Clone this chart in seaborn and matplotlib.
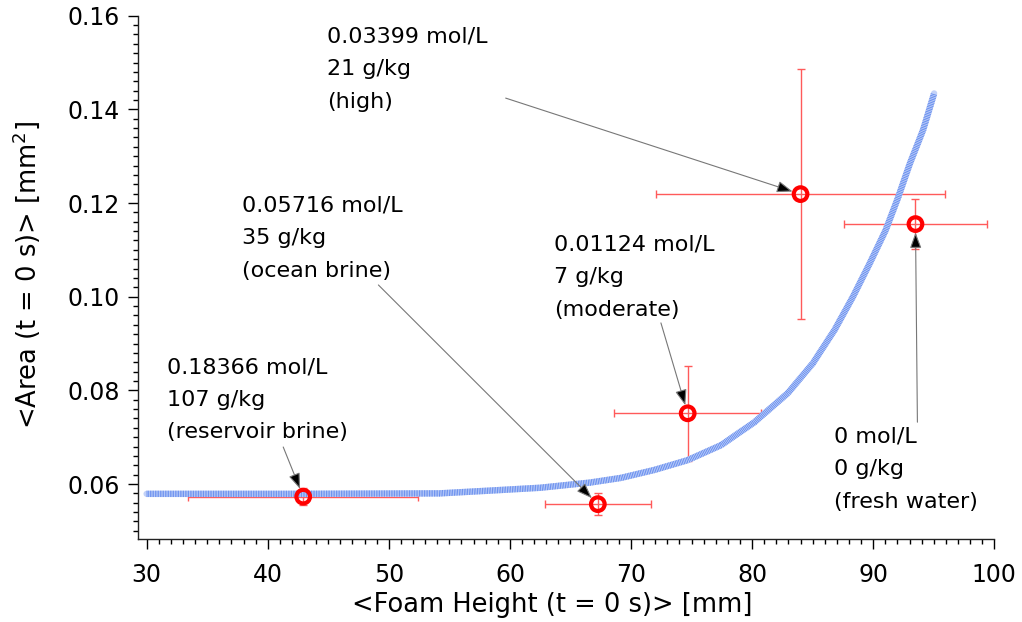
import matplotlib
matplotlib.use("Agg")
import matplotlib.pyplot as plt
from matplotlib.ticker import MultipleLocator, FormatStrFormatter
import seaborn as sns
import pandas as pd

# ---- data ----
foam_height = [42.93, 67.26, 74.68, 84.00, 93.49]
foam_height_err = [9.5, 4.35, 6.07, 11.9, 5.9]
area = [0.0573, 0.0557, 0.0751, 0.1219, 0.1155]
area_err = [0.0018, 0.0023, 0.0101, 0.0267, 0.0054]
labels = [
    "0.18366 mol/L\n107 g/kg\n(reservoir brine)",
    "0.05716 mol/L\n35 g/kg\n(ocean brine)",
    "0.01124 mol/L\n7 g/kg\n(moderate)",
    "0.03399 mol/L\n21 g/kg\n(high)",
    "0 mol/L\n0 g/kg\n(fresh water)",
]
# fitted curve
fit_x = [30.0, 42.0, 54.2, 58.4, 62.5, 66.6, 69.16, 71.92, 74.68, 77.44, 80.19, 82.95,
         85.02, 86.81, 88.33, 89.71, 91.03, 92.06, 93.01, 94.12, 95.03]
fit_y = [0.0579, 0.0579, 0.0580, 0.0586, 0.0592, 0.0603, 0.0613, 0.0630, 0.0651, 0.0683,
         0.0732, 0.0794, 0.0858, 0.0929, 0.1000, 0.1071, 0.1142, 0.1212, 0.1283, 0.1356,
         0.1434]

# annotation layout (text top-left and arrow tail, data coords)
text_pos = [(31.68, 0.0871), (37.89, 0.1215), (63.62, 0.1132), (44.92, 0.1576), (86.79, 0.0722)]
arrow_tail = [(41.28, 0.0679), (49.14, 0.1025), (72.47, 0.0944), (59.65, 0.1424), (93.65, 0.0732)]

sns.set_style("ticks")
plt.rcParams["font.family"] = ["DejaVu Sans"]
plt.rcParams["text.color"] = "black"
plt.rcParams["axes.labelcolor"] = "black"
plt.rcParams["xtick.color"] = "black"
plt.rcParams["ytick.color"] = "black"

fig = plt.figure(figsize=(10.22, 6.22), dpi=100)
ax = fig.add_axes([0.1347, 0.1330, 0.9729 - 0.1347, 0.9748 - 0.1330])

pts = pd.DataFrame({"x": foam_height, "y": area})
fit = pd.DataFrame({"x": fit_x, "y": fit_y})

ax.errorbar(foam_height, area, xerr=foam_height_err, yerr=area_err, fmt="none",
            ecolor="#ff5a5a", elinewidth=1.0, capsize=3, capthick=1.0, zorder=2)

sns.lineplot(data=fit, x="x", y="y", ax=ax, color="#c3d2f8", lw=4.6,
             estimator=None, sort=True, zorder=3)
sns.lineplot(data=fit, x="x", y="y", ax=ax, color="#5f88ee", lw=4.6,
             estimator=None, sort=True, zorder=3.1)
ax.lines[-1].set_dashes([0.13, 0.13])
for ln in ax.lines[-2:]:
    ln.set_solid_joinstyle("round")
    ln.set_dash_joinstyle("round")

sns.scatterplot(data=pts, x="x", y="y", ax=ax, marker="o", s=96,
                facecolors="none", edgecolor="#ff0000", linewidth=3.0, zorder=5)

for lab, (tx, ty), (ax_, ay_), px, py in zip(labels, text_pos, arrow_tail, foam_height, area):
    ax.text(tx, ty, lab, fontsize=16, va="top", ha="left", linespacing=1.78,
            color="black", zorder=6)
    ax.annotate("", xy=(px, py), xytext=(ax_, ay_),
                arrowprops=dict(arrowstyle="-|>,head_length=0.6,head_width=0.22",
                                ec="#777777", fc="black", lw=0.8,
                                shrinkA=0, shrinkB=6, mutation_scale=16),
                zorder=6)

ax.set_xlim(29.26, 100)
ax.set_ylim(0.0482, 0.16)
ax.xaxis.set_major_locator(MultipleLocator(10))
ax.xaxis.set_minor_locator(MultipleLocator(1))
ax.yaxis.set_minor_locator(MultipleLocator(0.002))
ax.yaxis.set_major_formatter(FormatStrFormatter("%.2f"))
ax.set_yticks([0.06, 0.08, 0.10, 0.12, 0.14, 0.16])

ax.tick_params(which="major", direction="out", length=7, width=1, labelsize=17, color="black")
ax.tick_params(which="minor", direction="out", length=3.7, width=1, color="black")
ax.tick_params(axis="x", which="major", pad=10)
ax.tick_params(axis="y", which="major", pad=6)
for s in ["top", "right"]:
    ax.spines[s].set_visible(False)
for s in ["left", "bottom"]:
    ax.spines[s].set_color("#222222")
    ax.spines[s].set_linewidth(1)

ax.set_xlabel("<Foam Height (t = 0 s)> [mm]", fontsize=18.5)
ax.set_ylabel("<Area (t = 0 s)> [mm$^2$]", fontsize=18.5)
ax.xaxis.set_label_coords(0.4837, -0.101)
ax.yaxis.set_label_coords(-0.112, 0.505)

fig.savefig("out.png", dpi=100)
